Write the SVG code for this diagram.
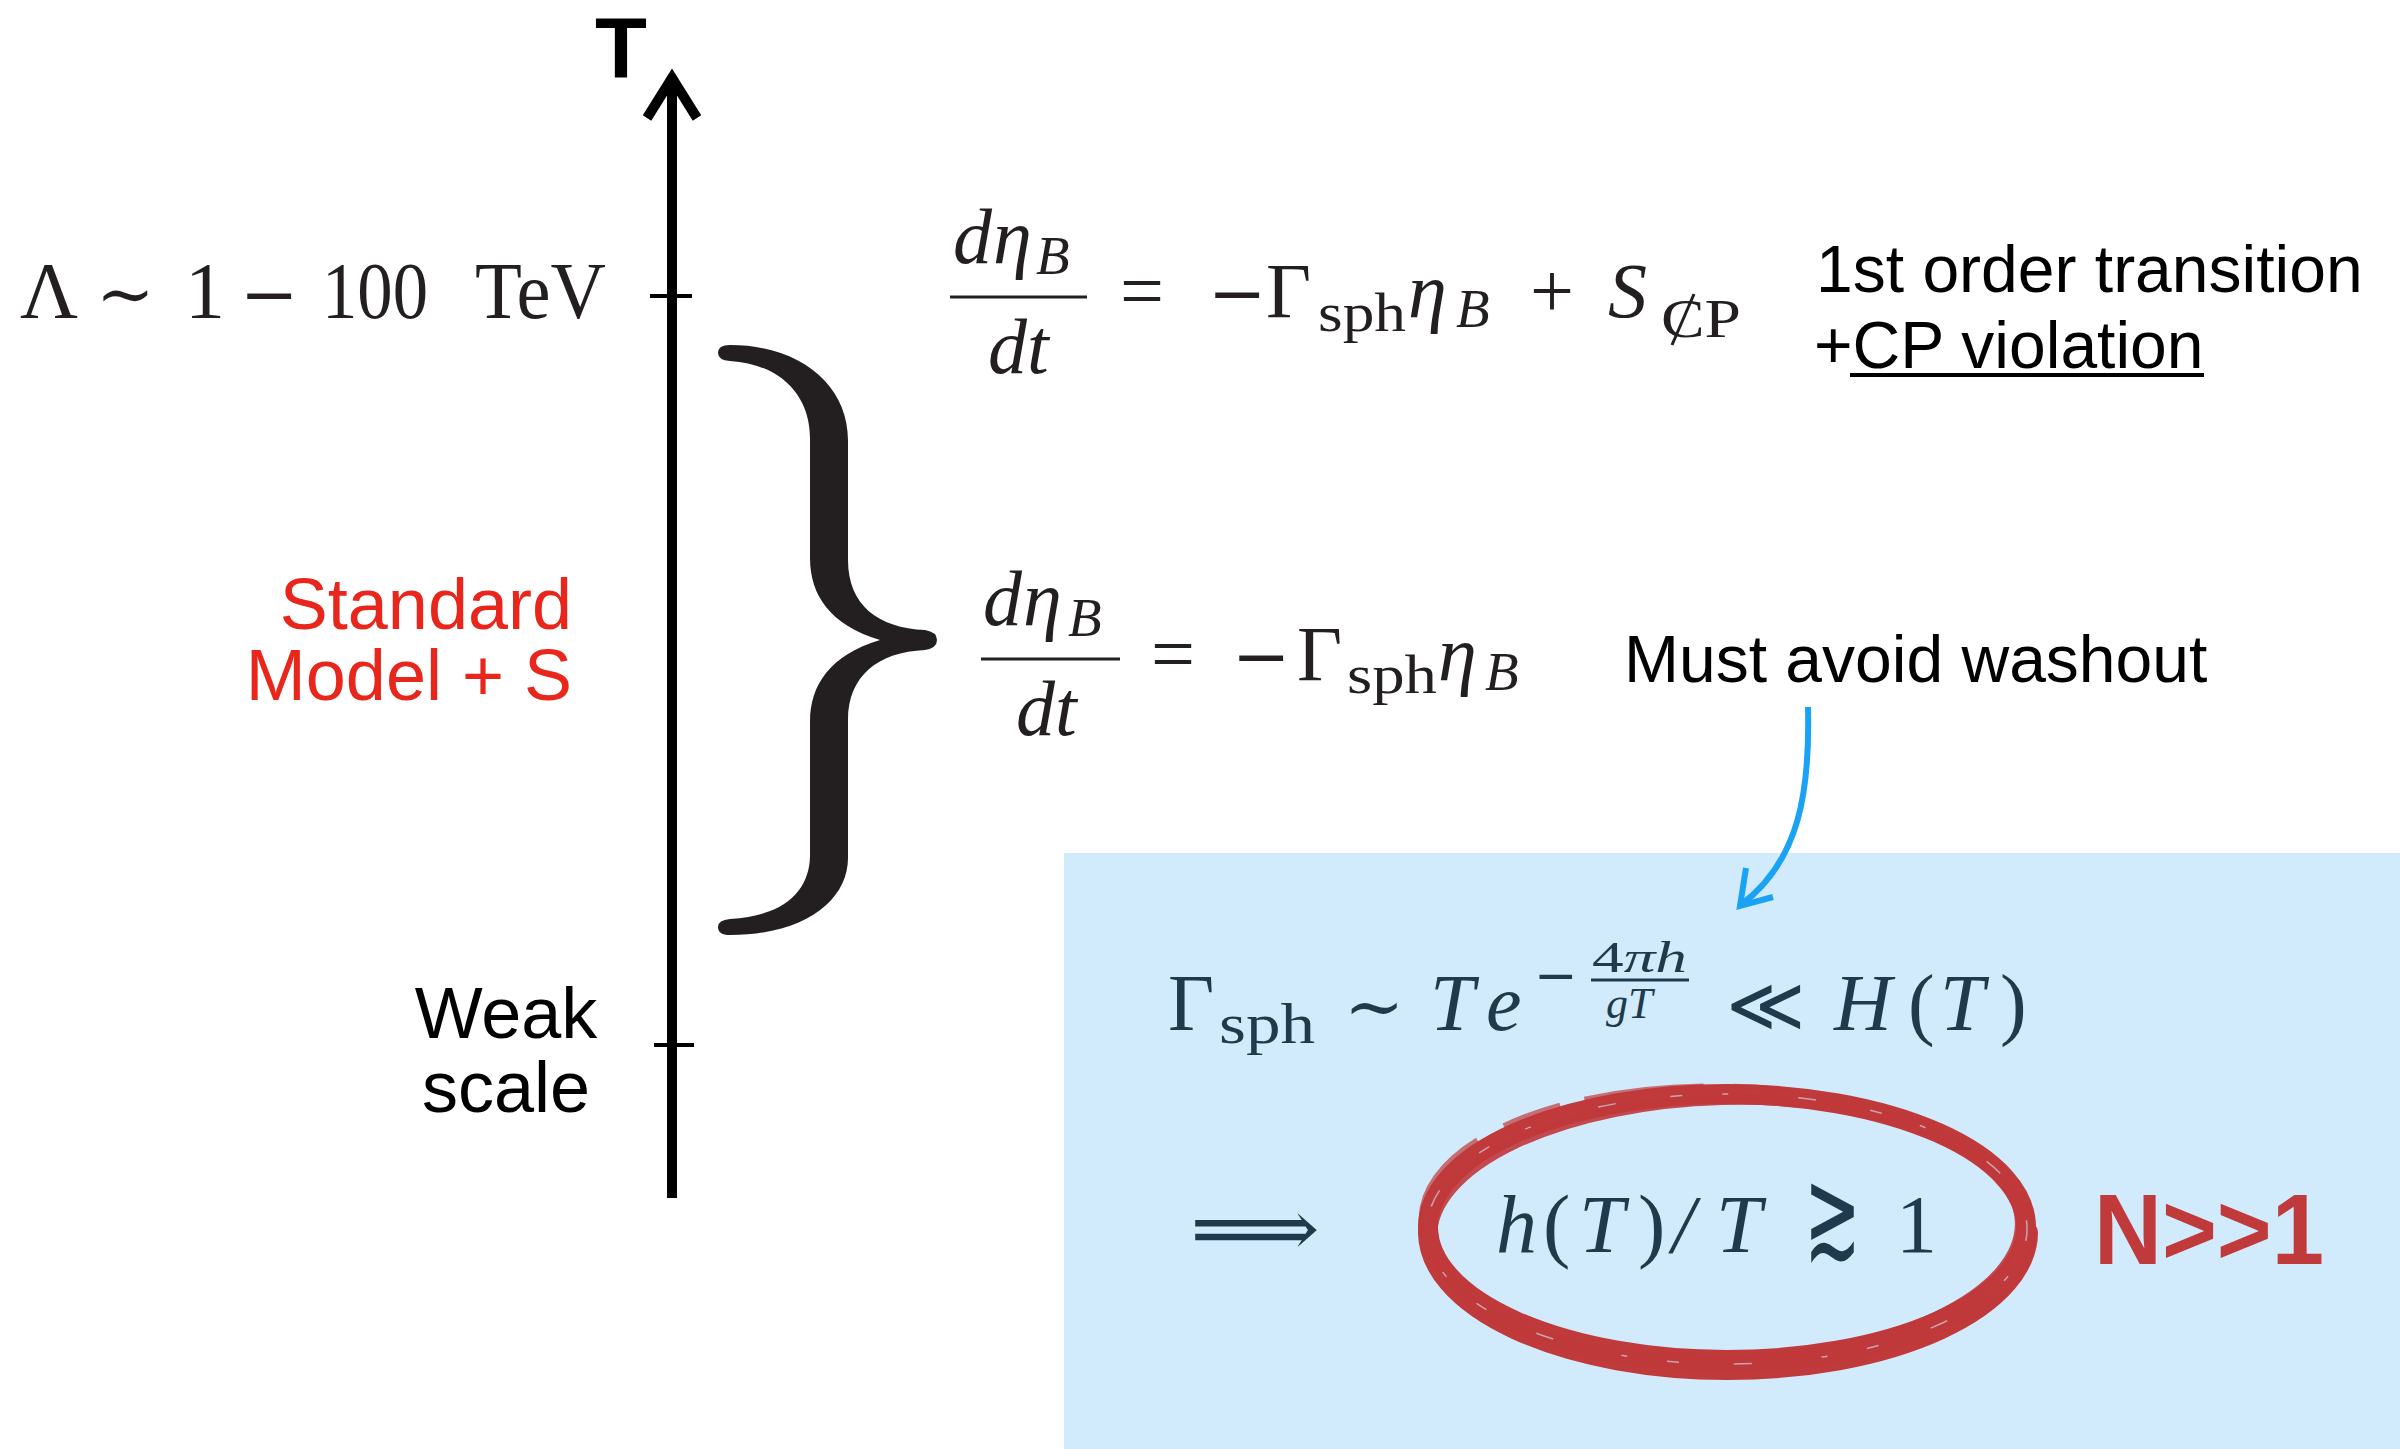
<svg xmlns="http://www.w3.org/2000/svg" width="2400" height="1449" viewBox="0 0 2400 1449">
<style>
.m{font-family:"Liberation Serif","DejaVu Serif",serif;fill:#231f20}
.mb{font-family:"Liberation Serif","DejaVu Serif",serif;fill:#1e3a4c}
.i{font-style:italic}
.s{font-family:"Liberation Sans",Arial,sans-serif}
.sym{font-family:"DejaVu Serif","DejaVu Sans",serif}
.bar{stroke:#231f20;stroke-width:3}
.barb{stroke:#1e3a4c;stroke-width:3}
.gap{fill:none;stroke:#d1ebfc;opacity:0.6}
</style>
<rect x="0" y="0" width="2400" height="1449" fill="#ffffff"/>
<g id="box"><rect x="1064" y="853" width="1336" height="596" fill="#d1ebfc"/></g>

<g id="axis">
<line x1="672" y1="80" x2="672" y2="1198" stroke="#000" stroke-width="10"/>
<path d="M647,118 L672,78 L697,118" fill="none" stroke="#000" stroke-width="10" stroke-linejoin="miter"/>
<line x1="650" y1="296" x2="692" y2="296" stroke="#000" stroke-width="4"/>
<line x1="654" y1="1045" x2="694" y2="1045" stroke="#000" stroke-width="4"/>
</g>
<g id="label-T"><text x="595" y="77" class="s" font-weight="bold" font-size="85" fill="#000">T</text></g>

<g id="label-lambda" class="m" font-size="80">
<text y="318"><tspan x="20">Λ</tspan><tspan x="96" class="sym" font-size="70">∼</tspan><tspan x="185">1</tspan><tspan x="240" class="sym" font-size="70">−</tspan><tspan x="322" textLength="106" lengthAdjust="spacingAndGlyphs">100</tspan><tspan x="475" textLength="131" lengthAdjust="spacingAndGlyphs">TeV</tspan></text>
</g>

<g id="label-sm" class="s" font-size="72" fill="#e8261b" text-anchor="end">
<text x="572" y="629">Standard<tspan x="572" y="700">Model + S</tspan></text>
</g>
<g id="label-weak" class="s" font-size="72" fill="#000" text-anchor="middle">
<text x="506" y="1038">Weak<tspan x="506" y="1112">scale</tspan></text>
</g>

<g id="brace">
<path fill="#231f20" d="M730,345 C800,345 848,385 848,440 L848,560 C848,605 878,628 925,630 Q937,632 937,640 Q937,648 925,650 C878,652 848,676 848,720 L848,858 C848,900 805,935 730,935 Q718,935 718,927 Q718,920 730,919 C785,916 810,890 810,855 L810,722 C810,685 830,655 880,640 C830,625 810,595 810,558 L810,438 C810,395 780,364 730,361 Q718,360 718,353 Q718,345 730,345 Z"/>
</g>

<g id="eq1" class="m" font-size="78">
<text x="953" y="263" class="i">d</text>
<text x="993" y="263" class="i">η</text>
<text x="1036" y="274" class="i" font-size="55">B</text>
<line x1="950" y1="297" x2="1087" y2="297" class="bar"/>
<text x="988" y="373" class="i">dt</text>
<text x="1120" y="317">=</text>
<text x="1208" y="317" class="sym" font-size="70">−</text>
<text x="1266" y="317">Γ</text>
<text x="1318" y="331" font-size="55" textLength="88" lengthAdjust="spacingAndGlyphs">sph</text>
<text x="1408" y="317" class="i">η</text>
<text x="1456" y="327" class="i" font-size="55">B</text>
<text x="1530" y="317">+</text>
<text x="1608" y="317" class="i">S</text>
<text x="1661" y="337" font-size="55" textLength="80" lengthAdjust="spacingAndGlyphs">CP</text>
<line x1="1672" y1="345" x2="1694" y2="294" class="bar"/>
</g>
<g id="note1" class="s" font-size="66" fill="#000">
<text x="1816" y="292">1st order transition</text>
<text x="1814" y="368">+CP violation</text>
<line x1="1850" y1="375" x2="2204" y2="375" stroke="#000" stroke-width="4"/>
</g>

<g id="eq2" class="m" font-size="78">
<text x="983" y="625" class="i">d</text>
<text x="1023" y="625" class="i">η</text>
<text x="1068" y="636" class="i" font-size="55">B</text>
<line x1="981" y1="659" x2="1120" y2="659" class="bar"/>
<text x="1016" y="735" class="i">dt</text>
<text x="1151" y="680">=</text>
<text x="1232" y="680" class="sym" font-size="70">−</text>
<text x="1297" y="680">Γ</text>
<text x="1347" y="693" font-size="55" textLength="90" lengthAdjust="spacingAndGlyphs">sph</text>
<text x="1438" y="680" class="i">η</text>
<text x="1485" y="690" class="i" font-size="55">B</text>
</g>
<g id="note2" class="s" font-size="66" fill="#000">
<text x="1624" y="682">Must avoid washout</text>
</g>

<g id="eq3" class="mb" font-size="80">
<text x="1168" y="1030">Γ</text>
<text x="1219" y="1043" font-size="56" textLength="96" lengthAdjust="spacingAndGlyphs">sph</text>
<text x="1344" y="1031" class="sym" font-size="72" fill="#1e3a4c">∼</text>
<text x="1430" y="1030" class="i">T</text>
<text x="1486" y="1030" class="i">e</text>
<text x="1534" y="993" class="sym" font-size="52" fill="#1e3a4c">−</text>
<text x="1592" y="972" font-size="44" textLength="95" lengthAdjust="spacingAndGlyphs">4<tspan class="i">πh</tspan></text>
<line x1="1591" y1="980" x2="1689" y2="980" class="barb"/>
<text x="1606" y="1018" class="i" font-size="44">gT</text>
<text x="1726" y="1031" class="sym" font-size="76" fill="#1e3a4c">≪</text>
<text x="1834" y="1030" class="i">H</text>
<text x="1908" y="1030">(</text>
<text x="1940" y="1030" class="i">T</text>
<text x="2000" y="1030">)</text>
</g>
<g id="eq4" class="mb" font-size="82">
<text x="1190" y="1256" class="sym" font-size="80" fill="#1e3a4c" textLength="130" lengthAdjust="spacingAndGlyphs">⟹</text>
<text x="1496" y="1252" class="i">h</text>
<text x="1543" y="1252">(</text>
<text x="1579" y="1252" class="i">T</text>
<text x="1638" y="1252">)</text>
<text x="1672" y="1252" class="i">/</text>
<text x="1716" y="1252" class="i">T</text>
<text transform="translate(1804,1258) scale(0.85,1.6)" font-family="DejaVu Sans, sans-serif" font-weight="200" font-size="80" fill="#1e3a4c">≳</text>
<text x="1896" y="1252">1</text>
</g>

<g id="circle" fill="none" stroke="#c0393b">
<ellipse cx="1727" cy="1227" rx="299" ry="133" stroke-width="20"/>
<ellipse cx="1726" cy="1230" rx="294" ry="130" stroke-width="10" transform="rotate(-1.5 1726 1230)" opacity="0.9"/>
<path d="M1428,1232 A300 138 0 0 0 2028,1232" stroke-width="20" stroke-linecap="round"/>
<path d="M1450,1280 A290 128 0 0 0 1980,1300" stroke-width="10" stroke-linecap="round" opacity="0.85"/>
<ellipse cx="1727" cy="1226" rx="306" ry="140" stroke-width="5" transform="rotate(1.5 1727 1226)" opacity="0.7" stroke-dasharray="120 30 60 25"/>
<ellipse cx="1727" cy="1229" rx="300" ry="135" class="gap" stroke-width="1.5" stroke-dasharray="12 40 6 70 18 55"/>
</g>
<g id="n-label"><text x="2094" y="1264" class="s" font-weight="bold" font-size="100" fill="#c0393b" textLength="230" lengthAdjust="spacingAndGlyphs">N&gt;&gt;1</text></g>

<g id="connectors">
<path d="M1808,707 C1810,790 1800,860 1742,904" fill="none" stroke="#1aa3f5" stroke-width="6"/>
<path d="M1746,868 L1740,906 L1773,897" fill="none" stroke="#1aa3f5" stroke-width="6" stroke-linejoin="miter"/>
</g>
</svg>
